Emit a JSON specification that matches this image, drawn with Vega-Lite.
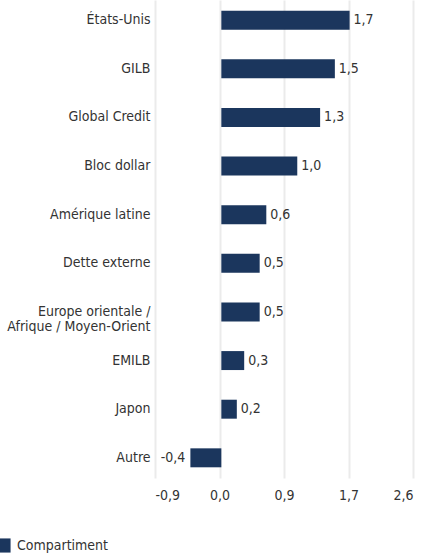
{
  "$schema": "https://vega.github.io/schema/vega-lite/v6.json",
  "autosize": {"type": "none"},
  "width": 258,
  "height": 478,
  "padding": {"left": 155, "top": 0, "right": 12, "bottom": 76},
  "background": "white",
  "config": {
    "locale": {"number": {"decimal": ",", "thousands": " ", "grouping": [3], "currency": ["", " €"], "minus": "-"}},
    "font": "DejaVu Sans Condensed",
    "view": {"stroke": null},
    "axis": {"labelFont": "DejaVu Sans Condensed", "labelColor": "#333333", "labelFontSize": 14}
  },
  "data": {
    "values": [
      {"region": "États-Unis", "value": 1.74, "serie": "Compartiment"},
      {"region": "GILB", "value": 1.54, "serie": "Compartiment"},
      {"region": "Global Credit", "value": 1.34, "serie": "Compartiment"},
      {"region": "Bloc dollar", "value": 1.03, "serie": "Compartiment"},
      {"region": "Amérique latine", "value": 0.61, "serie": "Compartiment"},
      {"region": "Dette externe", "value": 0.52, "serie": "Compartiment"},
      {"region": "Europe orientale / Afrique / Moyen-Orient", "value": 0.52, "serie": "Compartiment"},
      {"region": "EMILB", "value": 0.31, "serie": "Compartiment"},
      {"region": "Japon", "value": 0.21, "serie": "Compartiment"},
      {"region": "Autre", "value": -0.42, "serie": "Compartiment"}
    ]
  },
  "encoding": {
    "y": {
      "field": "region", "type": "nominal", "sort": null, "title": null,
      "scale": {"paddingInner": 0.61, "paddingOuter": 0.22},
      "axis": {
        "domain": false, "ticks": false, "grid": false, "labelPadding": 5,
        "labelLineHeight": 15,
        "labelExpr": "datum.value == 'Europe orientale / Afrique / Moyen-Orient' ? ['Europe orientale /', 'Afrique / Moyen-Orient'] : datum.value"
      }
    }
  },
  "layer": [
    {
      "mark": {"type": "bar"},
      "encoding": {
        "x": {
          "field": "value", "type": "quantitative", "title": null,
          "scale": {"domain": [-0.9, 2.6], "nice": false, "zero": false},
          "axis": {
            "values": [-0.9, -0.025, 0.85, 1.725, 2.6],
            "labelExpr": "datum.value < -0.5 ? '-0,9' : datum.value < 0.5 ? '0,0' : datum.value < 1.2 ? '0,9' : datum.value < 2 ? '1,7' : '2,6'",
            "domain": false, "ticks": false, "grid": true, "gridColor": "#ebebeb", "gridWidth": 2,
            "labelPadding": 10, "labelFontSize": 14
          }
        },
        "x2": {"datum": 0},
        "color": {
          "field": "serie", "type": "nominal",
          "scale": {"range": ["#1b365d"]},
          "legend": {
            "title": null, "orient": "none", "legendX": -159, "legendY": 538,
            "symbolType": "square", "symbolSize": 200, "symbolStrokeWidth": 0,
            "labelFont": "DejaVu Sans Condensed", "labelFontSize": 14, "labelColor": "#333333", "labelOffset": 6
          }
        }
      }
    },
    {
      "mark": {
        "type": "text", "fontSize": 14, "color": "#333333", "font": "DejaVu Sans Condensed",
        "align": {"expr": "datum.value < 0 ? 'right' : 'left'"},
        "dx": {"expr": "datum.value < 0 ? -5 : 4"}
      },
      "encoding": {
        "x": {"field": "value", "type": "quantitative"},
        "text": {"field": "value", "type": "quantitative", "format": ".1f"}
      }
    }
  ]
}
